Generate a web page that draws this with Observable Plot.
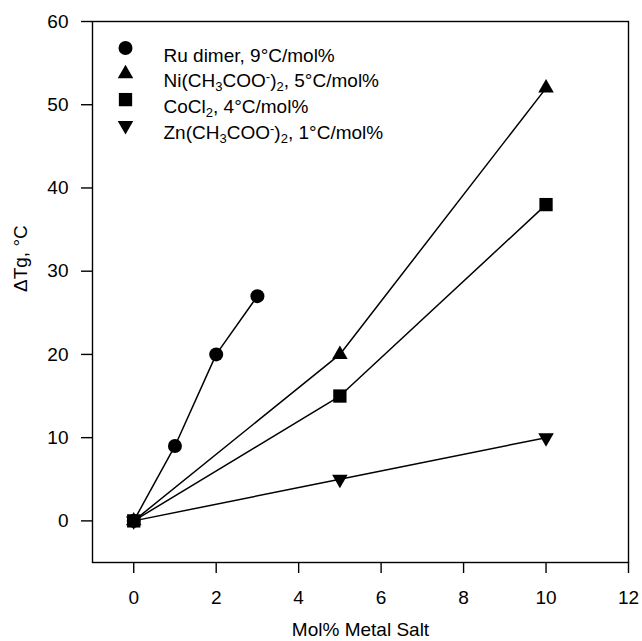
<!DOCTYPE html>
<html>
<head>
<meta charset="utf-8">
<script src="https://cdn.jsdelivr.net/npm/d3@7"></script>
<script src="https://cdn.jsdelivr.net/npm/@observablehq/plot@0.6"></script>
<style>
  html, body { margin: 0; padding: 0; background: #fff; }
</style>
</head>
<body>
<div id="chart"></div>
<script>
// ---- data ----
const seriesLabels = ["Ru dimer, 9°C/mol%", "Ni(CH₃COO⁻)₂, 5°C/mol%", "CoCl₂, 4°C/mol%", "Zn(CH₃COO⁻)₂, 1°C/mol%"];
const ruX = [0, 1, 2, 3];
const ruY = [0, 9, 20, 27];
const niX = [0, 5, 10];
const niY = [0, 20, 52];
const coX = [0, 5, 10];
const coY = [0, 15, 38];
const znX = [0, 5, 10];
const znY = [0, 5, 10];
const xTicks = [0, 2, 4, 6, 8, 10, 12];
const yTicks = [0, 10, 20, 30, 40, 50, 60];
const xLabel = "Mol% Metal Salt";
const yLabel = "ΔTg, °C";

// custom triangle symbols (up and down)
function triangle(dir) {
  return {
    draw(context, size) {
      const s = Math.sqrt(size / (Math.sqrt(3) * 0.75));
      const h = s * Math.sqrt(3) / 2;
      context.moveTo(0, -dir * h * 2 / 3);
      context.lineTo(s / 2, dir * h / 3);
      context.lineTo(-s / 2, dir * h / 3);
      context.closePath();
    }
  };
}
const symbols = ["circle", triangle(1), "square", triangle(-1)];
const radii = [7, 10, 7.5, 10];

const seriesXY = [[ruX, ruY], [niX, niY], [coX, coY], [znX, znY]];
const rows = seriesXY.flatMap(([xs, ys], s) => xs.map((x, i) => ({s, x, y: ys[i]})));

const font = "'Liberation Sans', Arial, Helvetica, sans-serif";
const fs = 19;

const marks = [
  Plot.frame({stroke: "black", strokeWidth: 1.4}),
  Plot.line(rows, {x: "x", y: "y", z: "s", stroke: "black", strokeWidth: 1.5}),
  ...seriesXY.map((_, s) => Plot.dot(rows.filter(d => d.s === s), {
    x: "x", y: "y", symbol: symbols[s], fill: "black", stroke: "none", r: radii[s]
  })),
  ...seriesLabels.flatMap((label, i) => [
    Plot.dot([label], {frameAnchor: "top-left", dx: 33, dy: 26.5 + i * 25.8, fill: "black", stroke: "none", r: radii[i], symbol: symbols[i]}),
    Plot.text([label], {frameAnchor: "top-left", dx: 71, dy: 26.5 + i * 25.8, text: d => d, textAnchor: "start", fontSize: fs, fill: "black"})
  ]),
  Plot.axisX({ticks: xTicks, tickSize: 11, tickPadding: 17, fontSize: fs, label: null, strokeWidth: 1.4}),
  Plot.axisY({ticks: yTicks, tickSize: 11, tickPadding: 13, fontSize: fs, label: null, strokeWidth: 1.4}),
  Plot.text([xLabel], {frameAnchor: "bottom", dx: 0, dy: 67, lineAnchor: "middle", text: d => d, fontSize: fs, fill: "black"}),
  Plot.text([yLabel], {frameAnchor: "left", dx: -72, dy: 0, rotate: -90, lineAnchor: "middle", text: d => d, fontSize: fs, fill: "black"})
];

const chart = Plot.plot({
  width: 642,
  height: 641,
  marginLeft: 92,
  marginRight: 14,
  marginTop: 21,
  marginBottom: 79,
  style: {fontFamily: font, fontSize: fs + "px", color: "black", background: "white", overflow: "visible"},
  x: {domain: [-1, 12]},
  y: {domain: [-5, 60]},
  marks
});
document.getElementById("chart").appendChild(chart);

// render sub/superscripts in legend labels as tspans
const subMap = {"₂": "2", "₃": "3"};
chart.querySelectorAll("g[aria-label='text'] text").forEach(t => {
  const str = t.textContent;
  if (!/[₂₃⁻]/.test(str)) return;
  t.textContent = "";
  for (const ch of str) {
    if (subMap[ch]) {
      const ts = document.createElementNS("http://www.w3.org/2000/svg", "tspan");
      ts.setAttribute("font-size", "13");
      ts.setAttribute("baseline-shift", "-30%");
      ts.textContent = subMap[ch];
      t.appendChild(ts);
    } else if (ch === "⁻") {
      const ts = document.createElementNS("http://www.w3.org/2000/svg", "tspan");
      ts.setAttribute("font-size", "13");
      ts.setAttribute("baseline-shift", "45%");
      ts.textContent = "-";
      t.appendChild(ts);
    } else {
      t.appendChild(document.createTextNode(ch));
    }
  }
});
</script>
</body>
</html>
